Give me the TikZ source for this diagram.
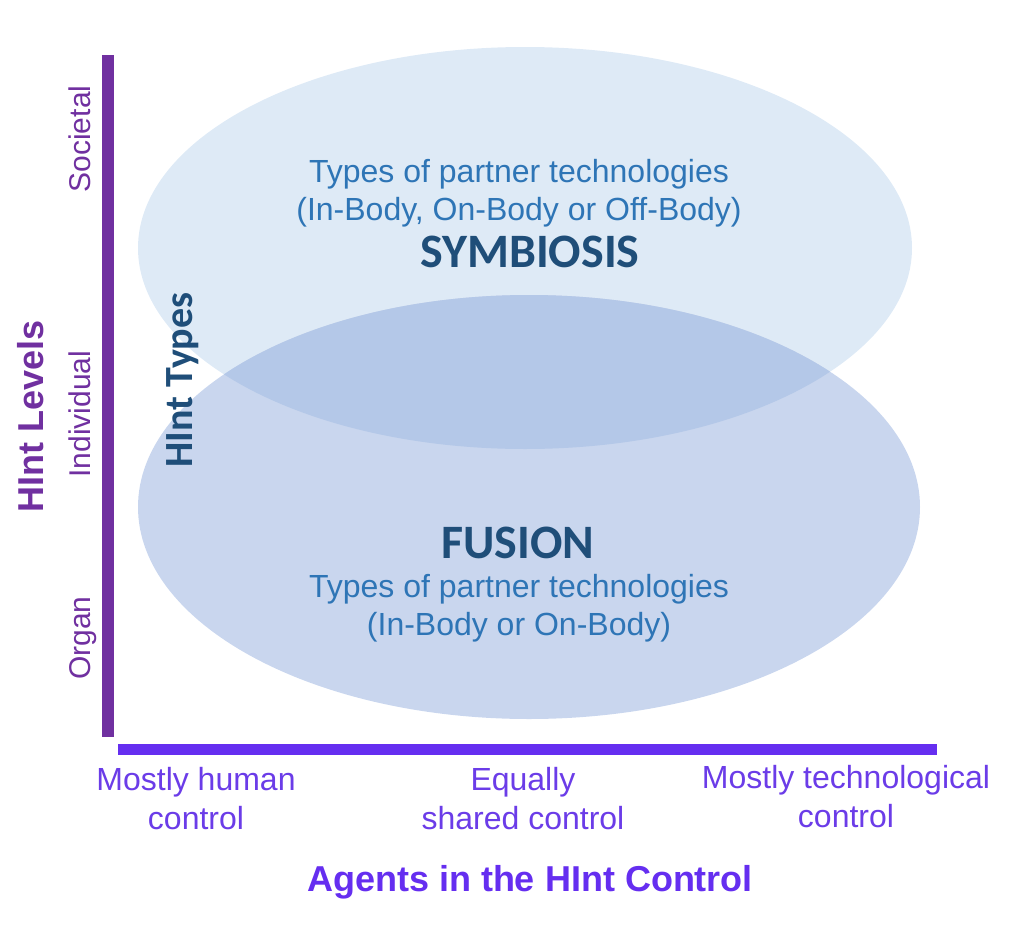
\documentclass[tikz,border=0pt]{standalone}
\usepackage{fontspec}
\setmainfont{Liberation Sans}
\newfontfamily\calib{Carlito}
\definecolor{vaxis}{HTML}{7030A0}
\definecolor{haxis}{HTML}{652EF0}
\definecolor{hlabel}{HTML}{6B3CE8}
\definecolor{topfill}{HTML}{DEEAF6}
\definecolor{botfill}{HTML}{C9D6EE}
\definecolor{overfill}{HTML}{B4C8E8}
\definecolor{midblue}{HTML}{2E75B6}
\definecolor{darkblue}{HTML}{1F4E79}
\begin{document}
\begin{tikzpicture}[x=0.75pt,y=-0.75pt,
  levellabel/.style={rotate=90,anchor=base,text=vaxis,font=\fontsize{22.5}{27}\selectfont},
  ctrllabel/.style={align=center,text=hlabel,font=\fontsize{24}{29.25}\selectfont},
  typetext/.style={align=center,text=midblue,font=\fontsize{24}{28.5}\selectfont},
  typetitle/.style={text=darkblue,font=\calib\bfseries\fontsize{36}{40}\selectfont},
  axistitle/.style={font=\bfseries\fontsize{27}{32}\selectfont}]
\useasboundingbox (0,0) rectangle (1028,928);
% ellipses
\fill[topfill] (525,248) ellipse [x radius=387, y radius=201];
\fill[botfill] (529,507) ellipse [x radius=391, y radius=212];
\begin{scope}
  \clip (525,248) ellipse [x radius=387, y radius=201];
  \fill[overfill] (529,507) ellipse [x radius=391, y radius=212];
\end{scope}
% axes
\fill[vaxis] (102,55) rectangle (114,737);
\fill[haxis] (118,744) rectangle (937,755);
% level labels
\node[levellabel] (soc) at (90,139) {Societal};
\node[levellabel] (ind) at (90,414) {Individual};
\node[levellabel] (org) at (90,638) {Organ};
\node[axistitle,rotate=90,anchor=base,text=vaxis] (levels) at (43,416) {HInt Levels};
\node[rotate=90,anchor=base,text=darkblue,font=\calib\bfseries\fontsize{30}{34}\selectfont] (types) at (192,380) {HInt Types};
% ellipse texts
\node[typetext] (symtext) at (519,193) {Types of partner technologies\\(In-Body, On-Body or Off-Body)};
\node[typetitle] (sym) at (530,252) {SYMBIOSIS};
\node[typetitle] (fus) at (518,543) {FUSION};
\node[typetext] (fustext) at (519,608) {Types of partner technologies\\(In-Body or On-Body)};
% control labels
\node[ctrllabel] (human) at (196,799) {Mostly human\\control};
\node[ctrllabel] (shared) at (523,799) {Equally\\shared control};
\node[ctrllabel] (tech) at (846,797) {Mostly technological\\control};
\node[axistitle,text=haxis] (agents) at (530,882) {Agents in the HInt Control};
\end{tikzpicture}
\end{document}
